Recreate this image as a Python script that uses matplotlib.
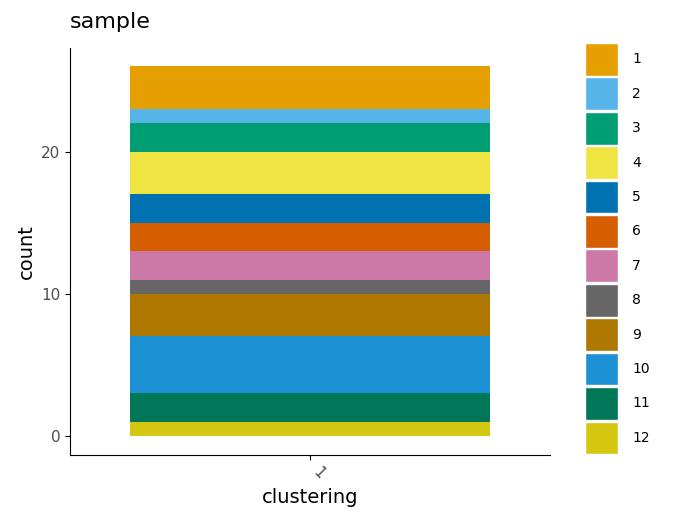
import matplotlib
matplotlib.use("Agg")
import matplotlib.pyplot as plt
from matplotlib.patches import Patch

clusters = ["1","2","3","4","5","6","7","8","9","10","11","12"]
counts = [3,1,2,3,2,2,2,1,3,4,2,1]
colors = ["#E69F00","#56B4E9","#009E73","#F0E442","#0072B2","#D55E00",
          "#CC79A7","#666666","#AD7700","#1C91D4","#007756","#D5C711"]

fig = plt.figure(figsize=(6.75,5.25), dpi=100)
ax = fig.add_axes([70/675, 1-455/525, 480/675, 407/525])
bottom = 0
for c, n, col in zip(reversed(clusters), reversed(counts), reversed(colors)):
    ax.bar(1, n, width=0.9, bottom=bottom, color=col)
    bottom += n
ax.set_xlim(0.4, 1.6)
ax.set_ylim(-1.34, 27.3)
ax.set_xticks([1]); ax.set_xticklabels(["1"], rotation=-45, ha="left")
ax.set_yticks([0,10,20])
ax.tick_params(labelsize=11, colors="black", labelcolor="#4d4d4d")
for s in ["top","right"]: ax.spines[s].set_visible(False)
ax.set_xlabel("clustering", fontsize=14)
ax.set_ylabel("count", fontsize=14)
fig.text(70/675, 1-22/525, "sample", fontsize=16, va="center", ha="left")
handles = [Patch(facecolor=c, edgecolor="white", linewidth=1) for c in colors]
fig.legend(handles, clusters, loc="upper left", bbox_to_anchor=(585/675, 1-43/525),
           frameon=False, fontsize=10, handlelength=2.4, handleheight=3.25,
           labelspacing=0.12, handletextpad=1.0, borderaxespad=0, borderpad=0)
fig.savefig("out.png", dpi=100)
